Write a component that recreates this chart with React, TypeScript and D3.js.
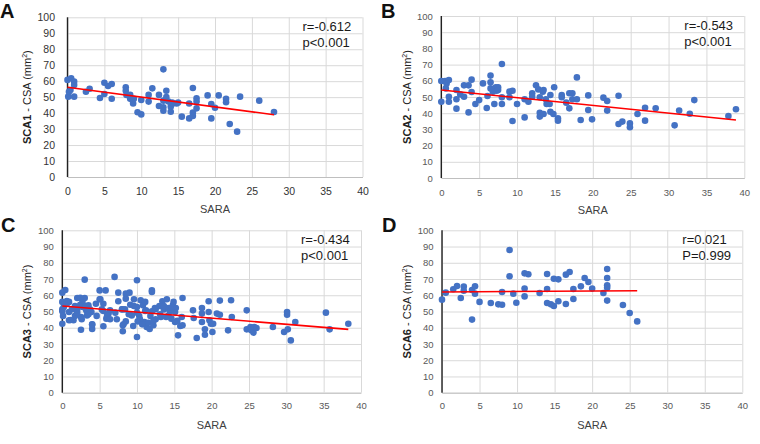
import React, { useEffect, useRef } from "react";
import * as d3 from "d3";

// SARA score vs cross-sectional area, one array per panel: [SARA, CSA]
const sca1Points: [number, number][] = [
  [0, 60.8], [0.1, 50.3], [0.2, 53.4], [0.5, 61.8], [0.4, 54.5], [0.9, 59.7], [0.9, 57.6], [0.9, 50.3],
  [2.5, 53.4], [3, 55.3], [4.4, 49.5], [5, 59], [5, 52], [5.5, 57], [6, 58.2], [6, 49],
  [7.9, 56.2], [7.9, 54], [8, 51.4], [8.5, 51.4], [8.5, 49], [8.8, 48.2], [8.9, 46], [9, 49],
  [9.5, 40.5], [10, 39.2], [10, 48.2], [11, 51.4], [11, 47.2], [11.5, 55.5], [12.4, 51.4], [12.4, 44.5],
  [13, 67.4], [13, 43.6], [13, 41.5], [13, 47.8], [13.4, 54], [13.4, 50], [13.7, 47.2], [14, 40.9],
  [14, 44], [14.2, 46.6], [14.3, 46], [14.8, 46], [15, 46.6], [15.5, 37.8], [16.5, 36.7], [16.5, 46],
  [17, 55.7], [17, 40.3], [17, 38.2], [17.5, 49.3], [17.5, 47.2], [17.5, 43], [19, 51.1], [19.5, 45.7],
  [19.5, 36.7], [20, 43.4], [20.5, 51.1], [21.5, 48.9], [21.5, 46.8], [22, 33.2], [23, 28.4], [23.4, 50.3],
  [26, 47.8], [28, 40.7],
];

const sca2Points: [number, number][] = [
  [0, 59.9], [0, 47.1], [0.5, 59.9], [0.6, 55.3], [0.7, 58.4], [1, 60.5], [1, 50.2], [1, 47.1],
  [2, 54.3], [2, 48.6], [2, 42.8], [2.5, 51.6], [3, 57.2], [3, 50.2], [3.6, 57.2], [3.6, 40.5],
  [4, 60.7], [4, 53.1], [4.5, 45.7], [5, 48.1], [5.5, 58.4], [6, 43.2], [6.1, 50.6], [6.5, 63.2],
  [6.5, 59.1], [6.5, 55.3], [6.8, 53.3], [7, 54.7], [7, 45.7], [7.2, 56], [7.3, 53.9], [7.5, 56],
  [7.5, 54.3], [8, 70.4], [8, 49.8], [8, 45.7], [9, 53.3], [9, 49.8], [9.4, 53.9], [9.4, 35.2],
  [10, 45.7], [11, 48.6], [11, 37.4], [11.5, 47.1], [12, 52.3], [12, 50.2], [12.5, 57.2], [12.8, 54.7],
  [13, 49.8], [13, 40.3], [13, 37.9], [13.4, 53.3], [13.5, 39.5], [13.5, 54.3], [13.8, 48.6], [13.9, 45.7],
  [14.3, 45.7], [14.4, 51.2], [14.4, 40.9], [14.8, 39.5], [14.9, 56], [15.4, 36.9], [15.4, 35.4], [15.9, 51.2],
  [15.9, 49.8], [16.5, 46.5], [16.9, 52.3], [16.9, 43], [17.3, 52.3], [17.3, 48.6], [17.9, 48.6], [17.9, 62.1],
  [18.4, 35.8], [19.4, 51], [19.4, 42], [19.9, 36.2], [21.4, 49.6], [21.9, 47.5], [21.9, 41.6], [23.4, 50.8],
  [23.4, 33.3], [23.9, 34.8], [24.9, 33.7], [24.9, 31.3], [25.9, 39.5], [26.9, 43.4], [26.9, 35.4], [28.3, 43],
  [30.8, 32.5], [31.4, 41.6], [32.8, 39.7], [33.4, 48.1], [37.9, 38.3], [38.9, 42.4],
];

const sca3Points: [number, number][] = [
  [0, 61.6], [0, 55.9], [0, 51.3], [0, 50.1], [0, 42.5], [0.2, 52.8], [0.4, 63.2], [0.6, 54.8],
  [0.9, 55.9], [0.9, 49.7], [0.9, 44.6], [1.5, 44.6], [1.5, 51.7], [2, 58.3], [2, 51.3], [2.4, 54.2],
  [2.5, 38.8], [2.5, 46.6], [2.7, 52.8], [2.7, 55.9], [3, 69.6], [3, 58.3], [3.2, 50.7], [3.3, 47.6],
  [3.5, 53.8], [3.9, 49.7], [4, 41.9], [4, 39.2], [4.5, 54.8], [5, 63], [5, 57.5], [5.3, 51.3],
  [5.5, 54.8], [5.5, 40.9], [5.8, 63], [5.9, 45.6], [6.2, 48.7], [6.4, 50.7], [7, 71.3], [7.5, 56.3],
  [7.5, 61.6], [8, 51.3], [8.1, 41.5], [8.1, 37.8], [8.4, 51.3], [8.5, 57.9], [8.5, 61], [8.5, 43.9],
  [9, 61.6], [9.1, 54.2], [9.3, 47.6], [9.5, 41.1], [9.6, 57.5], [10, 69.2], [10, 34.3], [10, 52.8],
  [10.1, 43.9], [10.3, 47.2], [10.5, 56.9], [10.8, 53.8], [11, 43.5], [11.1, 55.9], [11.2, 50.7], [11.3, 40.5],
  [11.5, 43.1], [11.7, 39.2], [12, 62], [12, 63], [12, 50.1], [12.2, 41.5], [12.4, 52.2], [12.5, 45.2],
  [13, 53.4], [13.2, 46.6], [13.4, 56.3], [13.6, 51.3], [13.9, 46.6], [14, 57.5], [14.2, 52.2], [14.4, 50.1],
  [14.6, 45.6], [14.8, 53.8], [14.9, 55.9], [15.1, 49.7], [15.1, 43.5], [15.2, 52.2], [15.5, 35.3], [15.8, 41.1],
  [16, 46.6], [16.1, 58.3], [16.1, 41.5], [17.5, 50.7], [17.6, 46], [18, 33.7], [18.7, 52.2], [18.7, 48.7],
  [18.7, 43.5], [19.1, 35.7], [19.1, 39], [19.6, 56.3], [19.6, 49.7], [19.7, 44.6], [19.9, 42.5], [20.1, 37.4],
  [20.2, 42.5], [20.7, 48.7], [21.1, 48], [21.1, 56.7], [22.2, 38.4], [22.6, 56.9], [22.7, 46.6], [24.7, 50.7],
  [24.7, 39], [25.2, 40.5], [25.3, 38.4], [25.6, 37], [25.7, 40.5], [26, 39.8], [28.2, 40.5], [29.7, 37.4],
  [30.1, 49.7], [30.1, 48], [30.2, 39], [30.6, 32.2], [31.2, 43.5], [35.3, 49.3], [35.8, 39], [38.3, 42.5],
  [0.6, 56.5], [1.3, 51.4], [1.7, 47.3], [2, 49.3], [2.4, 58.5], [2.6, 45.2], [3.1, 53.4], [3.5, 48.3],
  [3.7, 51.4], [4, 42.1], [1.1, 44.8], [0.1, 47.3], [0.3, 54.5], [1.7, 53.4], [5.1, 57.5], [5.5, 50.3],
  [6, 47.3], [6.4, 45.2], [8, 51.4], [8.2, 42.1], [8.9, 48.3], [9.6, 53.4], [10.4, 45.2], [10.7, 42.1],
  [11.1, 50.3], [11.8, 47.3], [12.5, 51.4], [13.1, 48.3], [13.6, 53.4], [14.2, 47.3], [14.7, 52.4], [15.4, 44.2],
  [7.1, 49.3], [7.3, 45.2], [4.6, 47.3], [10, 49.3], [12.2, 44.2],
];

const sca6Points: [number, number][] = [
  [0, 57.3], [0.5, 61.6], [1.5, 63.7], [2, 65.7], [2.5, 58.3], [2.9, 65.3], [2.9, 62.8], [4, 63.2],
  [4, 45], [4.4, 65.5], [4.4, 61], [5, 55.9], [6.5, 55.2], [7.5, 54.4], [8, 54.2], [8, 62],
  [9, 87.9], [9, 71.7], [9.5, 61], [9.9, 55.4], [11, 73.5], [11, 64.1], [11, 59.3], [11.5, 72.9],
  [13, 61.4], [14, 73.1], [14, 63.9], [14, 55.2], [14.5, 54.4], [14.9, 70.2], [14.9, 53.4], [15.5, 69.8],
  [15.5, 56.3], [16.5, 72.7], [16.5, 54.6], [17, 74.3], [17.5, 63.9], [17.5, 57.7], [18.5, 65.5], [19, 70.6],
  [19.5, 68.2], [20, 64.1], [21.5, 61.4], [22, 76.2], [22, 70.6], [22, 66.1], [22, 64.7], [22, 56.7],
  [24.1, 54], [25, 49.1], [26, 43.9],
];

// fitted trend lines as shown: [SARA, CSA] end points
const sca1Trend: [number, number][] = [[0, 56.2], [28, 39.0]];
const sca2Trend: [number, number][] = [[0, 54.3], [38.9, 35.8]];
const sca3Trend: [number, number][] = [[0, 53.4], [38.3, 39.0]];
const sca6Trend: [number, number][] = [[0, 62.0], [26, 62.8]];

const panelLetters = ["A", "B", "C", "D"];
const seriesNames = ["SCA1", "SCA2", "SCA3", "SCA6"];
const statR = ["r=-0.612", "r=-0.543", "r=-0.434", "r=0.021"];
const statP = ["p<0.001", "p<0.001", "p<0.001", "P=0.999"];

const xTickValues = [0, 5, 10, 15, 20, 25, 30, 35, 40];
const yTickValues = [0, 10, 20, 30, 40, 50, 60, 70, 80, 90, 100];

const FONT = "'Liberation Sans', Arial, sans-serif";

export default function App() {
  const ref = useRef<SVGSVGElement>(null);

  useEffect(() => {
    const svg = d3.select(ref.current);
    svg.selectAll("*").remove();

    const panels = [
      { pts: sca1Points, trend: sca1Trend, box: [67.5, 362.5, 17.3, 177], lx: 0, ly: 18, tick: 10.5, tickColor: "#333", ypad: 12.5, xpad: 11 },
      { pts: sca2Points, trend: sca2Trend, box: [441.3, 744.3, 16, 178], lx: 381, ly: 18, tick: 9.5, tickColor: "#595959", ypad: 8.5, xpad: 11 },
      { pts: sca3Points, trend: sca3Trend, box: [62.3, 361, 230.3, 392.7], lx: 1, ly: 232, tick: 9.5, tickColor: "#595959", ypad: 8.5, xpad: 10 },
      { pts: sca6Points, trend: sca6Trend, box: [442, 742.3, 230.3, 392.7], lx: 382, ly: 232, tick: 9.5, tickColor: "#595959", ypad: 8.5, xpad: 10 },
    ];

    panels.forEach((p, i) => {
      const [x0, x1, y0, y1] = p.box;
      const w = x1 - x0, h = y1 - y0;
      const g = svg.append("g").attr("transform", `translate(${x0}, ${y0})`);

      const x = d3.scaleLinear().domain([0, 40]).range([0, w]);
      const y = d3.scaleLinear().domain([0, 100]).range([h, 0]);

      // gridlines + tick labels
      const yAxis = g.append("g")
        .call(d3.axisLeft(y).tickValues(yTickValues).tickSize(-w).tickSizeOuter(0).tickPadding(p.ypad));
      yAxis.select(".domain").remove();
      yAxis.selectAll("line").attr("stroke", "#d9d9d9");
      yAxis.selectAll("text").attr("fill", p.tickColor).style("font-size", `${p.tick}px`).style("font-family", FONT);

      const xAxis = g.append("g")
        .attr("transform", `translate(0, ${h})`)
        .call(d3.axisBottom(x).tickValues(xTickValues).tickSize(-h).tickSizeOuter(0).tickPadding(p.xpad));
      xAxis.select(".domain").attr("stroke", "#bfbfbf");
      xAxis.selectAll("line").attr("stroke", "#d9d9d9");
      xAxis.selectAll("text").attr("fill", p.tickColor).style("font-size", `${p.tick}px`).style("font-family", FONT);

      g.append("line")
        .attr("x1", 0).attr("x2", 0).attr("y1", 0).attr("y2", h)
        .attr("stroke", "#222").attr("stroke-width", 1.4);

      g.selectAll("circle")
        .data(p.pts)
        .join("circle")
        .attr("cx", d => x(d[0]))
        .attr("cy", d => y(d[1]))
        .attr("r", 3.3)
        .attr("fill", "#4472c4");

      g.append("path")
        .datum(p.trend)
        .attr("d", d3.line<[number, number]>().x(d => x(d[0])).y(d => y(d[1])))
        .attr("stroke", "#ff0000")
        .attr("stroke-width", 1.6)
        .attr("fill", "none");

      // stats
      g.append("text").attr("x", w - 60).attr("y", 13.5)
        .style("font-size", "13px").style("font-family", FONT).attr("fill", "#1a1a1a").text(statR[i]);
      g.append("text").attr("x", w - 60).attr("y", 29.5)
        .style("font-size", "13px").style("font-family", FONT).attr("fill", "#1a1a1a").text(statP[i]);

      // axis titles
      g.append("text")
        .attr("x", w / 2).attr("y", h + 36)
        .attr("text-anchor", "middle")
        .style("font-size", "11px").style("font-family", FONT).attr("fill", "#404040")
        .text("SARA");

      const yt = g.append("text")
        .attr("transform", `translate(${-(x0 - (i % 2 === 0 ? 0 : 380)) + 31}, ${h / 2}) rotate(-90)`)
        .attr("text-anchor", "middle")
        .style("font-size", "11px").style("font-family", FONT).attr("fill", "#222");
      yt.append("tspan").style("font-weight", "bold").text(seriesNames[i]);
      yt.append("tspan").text(" - CSA (mm");
      yt.append("tspan").attr("dy", -4).style("font-size", "7px").text("2");
      yt.append("tspan").attr("dy", 4).text(")");

      svg.append("text")
        .attr("x", p.lx).attr("y", p.ly)
        .style("font-size", "20px").style("font-weight", "bold").style("font-family", FONT)
        .attr("fill", "#111")
        .text(panelLetters[i]);
    });
  }, []);

  return (
    <svg ref={ref} width={760} height={444}
      style={{ position: "absolute", left: 0, top: 0, background: "#fff" }} />
  );
}
